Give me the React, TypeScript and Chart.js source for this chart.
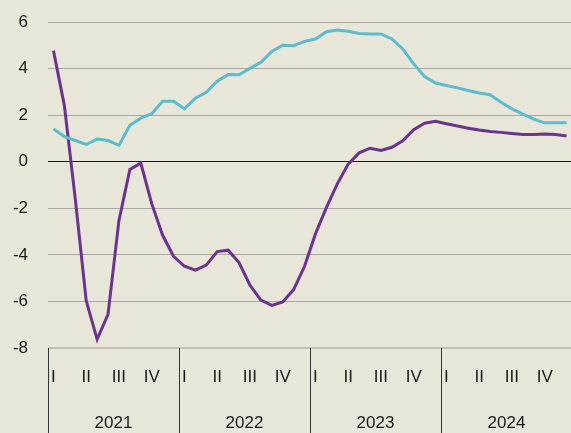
import React, { useEffect, useRef } from "react";
import { Chart, registerables } from "chart.js";

Chart.register(...registerables);

const years = ["2021", "2022", "2023", "2024"];
const quarterLabels = ["I", "II", "III", "IV"];
const months = years.flatMap((y) =>
  ["01", "02", "03", "04", "05", "06", "07", "08", "09", "10", "11", "12"].map((m) => `${y}-${m}`)
);

const tealSeries = [
  1.41, 1.08, 0.91, 0.74, 0.97, 0.91, 0.7, 1.56, 1.87, 2.06, 2.6, 2.6,
  2.27, 2.73, 2.98, 3.46, 3.74, 3.73, 4.01, 4.27, 4.73, 5.0, 4.98, 5.17,
  5.27, 5.58, 5.66, 5.6, 5.51, 5.49, 5.49, 5.27, 4.84, 4.2, 3.66, 3.38,
  3.27, 3.17, 3.06, 2.95, 2.88, 2.55, 2.27, 2.04, 1.83, 1.67, 1.67, 1.67,
];

const purpleSeries = [
  4.77, 2.41, -1.6, -5.97, -7.63, -6.55, -2.52, -0.33, -0.06, -1.8, -3.16, -4.06,
  -4.49, -4.66, -4.44, -3.86, -3.8, -4.33, -5.3, -5.94, -6.17, -6.02, -5.49, -4.49,
  -3.1, -1.97, -0.95, -0.1, 0.38, 0.58, 0.48, 0.62, 0.9, 1.38, 1.65, 1.74,
  1.63, 1.53, 1.44, 1.36, 1.3, 1.26, 1.21, 1.17, 1.17, 1.19, 1.17, 1.1,
];

const yMin = -8;
const yMax = 6;
const yStep = 2;

const FONT = "'Liberation Sans', Arial, sans-serif";

const separatorPlugin = {
  id: "yearSeparators",
  afterDraw(chart: any) {
    const x = chart.scales.x;
    const ctx = chart.ctx;
    const half = (x.getPixelForValue(1) - x.getPixelForValue(0)) / 2;
    ctx.save();
    ctx.strokeStyle = "#333333";
    ctx.lineWidth = 1;
    for (let k = 0; k <= years.length; k++) {
      const px = Math.round(x.getPixelForValue(k * 12) - half) + 0.5;
      ctx.beginPath();
      ctx.moveTo(px, chart.chartArea.bottom);
      ctx.lineTo(px, chart.height);
      ctx.stroke();
    }
    ctx.restore();
  },
};

export default function App() {
  const ref = useRef<HTMLCanvasElement | null>(null);

  useEffect(() => {
    document.body.style.margin = "0";
    const canvas = ref.current;
    if (!canvas) return;
    const chart = new Chart(canvas, {
      type: "line",
      data: {
        labels: months,
        datasets: [
          {
            label: "teal",
            data: tealSeries,
            borderColor: "#5bbccd",
            borderWidth: 3,
            pointRadius: 0,
            tension: 0,
            xAxisID: "x",
          },
          {
            label: "purple",
            data: purpleSeries,
            borderColor: "#6b338e",
            borderWidth: 3,
            pointRadius: 0,
            tension: 0,
            xAxisID: "x",
          },
        ],
      },
      options: {
        animation: false,
        responsive: false,
        layout: { padding: { top: 22, left: 0, right: 0, bottom: 0 } },
        plugins: {
          legend: { display: false },
          tooltip: { enabled: false },
        },
        scales: {
          y: {
            min: yMin,
            max: yMax,
            ticks: {
              stepSize: yStep,
              padding: 20,
              color: "#1a1a1a",
              font: { family: FONT, size: 17 },
            },
            grid: {
              drawTicks: false,
              color: (c: any) => (c.tick && c.tick.value === 0 ? "#1a1a1a" : c.tick && c.tick.value === yMin ? "#c2c0b6" : "#a8a8a8"),
              lineWidth: (c: any) => (c.tick && c.tick.value === yMin ? 2 : 1),
            },
            border: { display: false },
            afterFit: (s: any) => {
              s.width = 48;
              s.paddingTop = 0;
              s.paddingBottom = 0;
            },
          },
          x: {
            type: "category",
            offset: true,
            grid: { display: false, drawTicks: false },
            border: { display: false },
            ticks: {
              autoSkip: false,
              maxRotation: 0,
              minRotation: 0,
              padding: 19,
              color: "#1a1a1a",
              font: { family: FONT, size: 17 },
              callback: (_v: any, i: number) => (i % 3 === 0 ? quarterLabels[(i % 12) / 3] : ""),
            },
            afterFit: (s: any) => {
              s.height = 40;
              s.paddingLeft = 0;
              s.paddingRight = 0;
            },
          },
          x2: {
            type: "category",
            labels: years,
            offset: true,
            position: "bottom",
            grid: { display: false, drawTicks: false },
            border: { display: false },
            ticks: {
              autoSkip: false,
              maxRotation: 0,
              padding: 25,
              color: "#1a1a1a",
              font: { family: FONT, size: 17 },
            },
            afterFit: (s: any) => {
              s.height = 45;
              s.paddingLeft = 0;
              s.paddingRight = 0;
            },
          },
        },
      },
      plugins: [separatorPlugin],
    });
    return () => chart.destroy();
  }, []);

  return (
    <div style={{ position: "fixed", left: 0, top: 0, width: 571, height: 433, overflow: "hidden", background: "#e8e6d9" }}>
      <canvas ref={ref} width={572} height={433} style={{ display: "block" }} />
    </div>
  );
}
